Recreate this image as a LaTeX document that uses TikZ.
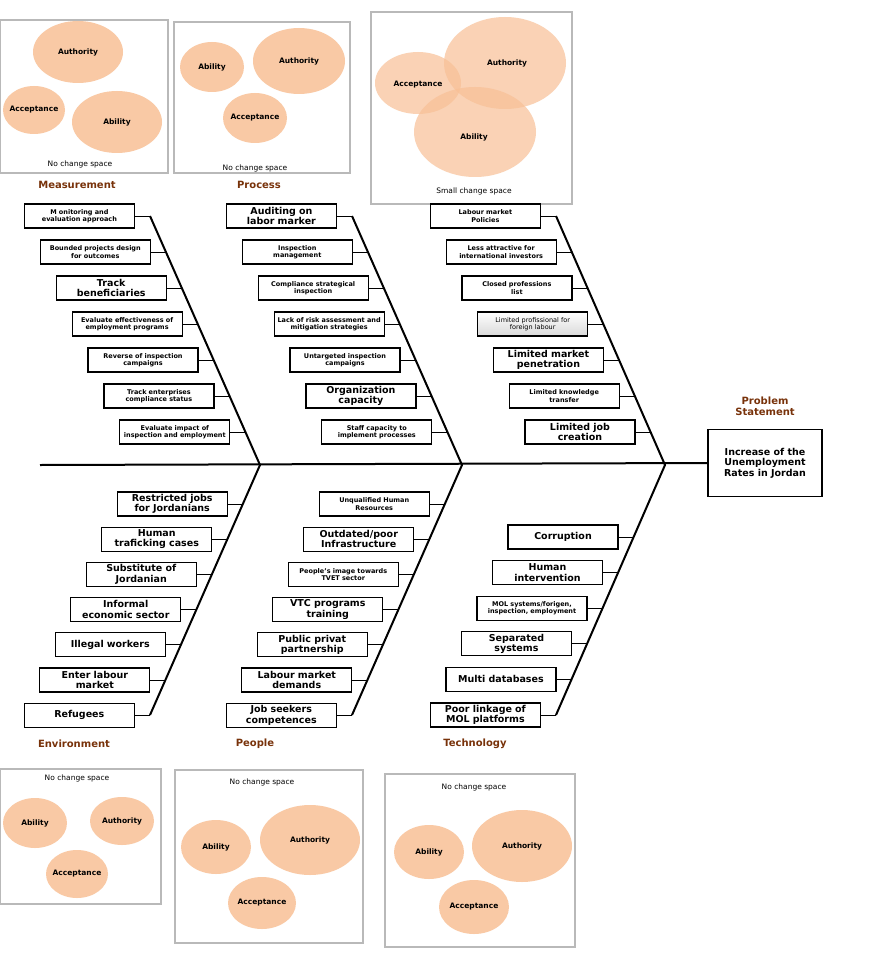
\documentclass[tikz,border=0pt]{standalone}
\usepackage{fontspec}
\setmainfont{DejaVu Sans}
\usetikzlibrary{positioning, calc}
\definecolor{peach}{RGB}{248,192,150}
\definecolor{catbrown}{RGB}{120,50,10}
\begin{document}
\begin{tikzpicture}[
			x=1pt, y=-1pt,
			box/.style={rectangle, draw, line width=1.2pt, minimum width=110pt, minimum height=24pt, text width=108pt, inner sep=1pt, align=center, fill=white},
			sm/.style={font=\fontsize{6.5}{7.2}\selectfont\bfseries},
			bg/.style={font=\fontsize{9.5}{10.5}\selectfont\bfseries},
			lt/.style={font=\fontsize{6.5}{7.2}\selectfont, top color=white, bottom color=gray!30},
			bone/.style={line width=2pt},
			tick/.style={line width=0.8pt},
			cat/.style={font=\fontsize{10}{11}\selectfont\bfseries, text=catbrown, align=center},
			frame/.style={draw=gray!55, line width=2pt, fill=white},
			blob/.style={fill=peach, opacity=0.85},
			note/.style={font=\fontsize{7.5}{8}\selectfont},
			bnote/.style={font=\fontsize{7.5}{8}\selectfont\bfseries},
			]
			\useasboundingbox (0,0) rectangle (870,960);
			
			% Venn panels, top
			\draw[frame] (0,20) rectangle (168,173);
			\fill[blob] (78,52) ellipse (45 and 31);
			\fill[blob] (34,110) ellipse (31 and 24);
			\fill[blob] (117,122) ellipse (45 and 31);
			\node[bnote] at (78,52) {Authority};
			\node[bnote] at (34,110) {Acceptance};
			\node[bnote] at (117,122) {Ability};
			\node[note] at (80,164) {No change space};
			
			\draw[frame] (174,22) rectangle (350,173);
			\fill[blob] (212,67) ellipse (32 and 25);
			\fill[blob] (299,61) ellipse (46 and 33);
			\fill[blob] (255,118) ellipse (32 and 25);
			\node[bnote] at (212,67) {Ability};
			\node[bnote] at (299,61) {Authority};
			\node[bnote] at (255,118) {Acceptance};
			\node[note] at (255,168) {No change space};
			
			\draw[frame] (371,12) rectangle (572,204);
			\fill[blob, opacity=0.7] (418,83) ellipse (43 and 31);
			\fill[blob, opacity=0.7] (505,63) ellipse (61 and 46);
			\fill[blob, opacity=0.7] (475,132) ellipse (61 and 45);
			\node[bnote] at (418,85) {Acceptance};
			\node[bnote] at (507,63) {Authority};
			\node[bnote] at (474,137) {Ability};
			\node[note] at (474,191) {Small change space};
			
			% Venn panels, bottom
			\draw[frame] (0,769) rectangle (161,904);
			\fill[blob] (35,823) ellipse (32 and 25);
			\fill[blob] (122,821) ellipse (32 and 24);
			\fill[blob] (77,874) ellipse (31 and 24);
			\node[bnote] at (35,823) {Ability};
			\node[bnote] at (122,821) {Authority};
			\node[bnote] at (77,874) {Acceptance};
			\node[note] at (77,778) {No change space};
			
			\draw[frame] (175,770) rectangle (363,943);
			\fill[blob] (216,847) ellipse (35 and 27);
			\fill[blob] (310,840) ellipse (50 and 35);
			\fill[blob] (262,903) ellipse (34 and 26);
			\node[bnote] at (216,847) {Ability};
			\node[bnote] at (310,840) {Authority};
			\node[bnote] at (262,903) {Acceptance};
			\node[note] at (262,782) {No change space};
			
			\draw[frame] (385,774) rectangle (575,947);
			\fill[blob] (429,852) ellipse (35 and 27);
			\fill[blob] (522,846) ellipse (50 and 36);
			\fill[blob] (474,907) ellipse (35 and 27);
			\node[bnote] at (429,852) {Ability};
			\node[bnote] at (522,846) {Authority};
			\node[bnote] at (474,907) {Acceptance};
			\node[note] at (474,787) {No change space};
			
			% Head and spine
			\node (prob) [rectangle, draw, line width=1.2pt, minimum width=114pt, minimum height=67pt, align=center, bg] at (765,463) {Increase of the\\Unemployment\\Rates in Jordan};
			\node[cat] at (765,406) {Problem\\Statement};
			\coordinate (tail) at (40,465);
			\draw[bone] (tail) -- (prob.west);
			
			% Bones
			\coordinate (mT) at (150,216); \coordinate (mS) at (260,465);
			\coordinate (pT) at (352,216); \coordinate (pS) at (462,465);
			\coordinate (lT) at (556,216); \coordinate (lS) at (665,465);
			\coordinate (eB) at (150,715); \coordinate (qB) at (352,715); \coordinate (tB) at (556,715);
			\draw[bone] (mT) -- (mS) -- (eB);
			\draw[bone] (pT) -- (pS) -- (qB);
			\draw[bone] (lT) -- (lS) -- (tB);
			
			% Measurement
			\foreach \txt/\sty [count=\i from 0] in {{M onitoring and\\evaluation approach}/sm, {Bounded projects design\\for outcomes}/sm, {Track\\beneficiaries}/bg, {Evaluate effectiveness of\\employment programs}/sm, {Reverse of inspection\\campaigns}/sm, {Track enterprises\\compliance status}/sm, {Evaluate impact of\\inspection and employment}/sm}{
				\coordinate (mk\i) at ($(mT)!{36*\i/249}!(mS)$);
				\node (m\i) [box, \sty, left=15pt of mk\i] {\txt};
				\draw[tick] (m\i) -- (mk\i);
			}
			% Process
			\foreach \txt/\sty [count=\i from 0] in {{Auditing on\\labor marker}/bg, {Inspection\\management}/sm, {Compliance strategical\\inspection}/sm, {Lack of risk assessment and\\mitigation strategies}/sm, {Untargeted inspection\\campaigns}/sm, {Organization\\capacity}/bg, {Staff capacity to\\implement processes}/sm}{
				\coordinate (pk\i) at ($(pT)!{36*\i/249}!(pS)$);
				\node (p\i) [box, \sty, left=15pt of pk\i] {\txt};
				\draw[tick] (p\i) -- (pk\i);
			}
			% Labour market
			\foreach \txt/\sty [count=\i from 0] in {{Labour market\\Policies}/sm, {Less attractive for\\international investors}/sm, {Closed professions\\list}/sm, {Limited profissional for\\foreign labour}/lt, {Limited market\\penetration}/bg, {Limited knowledge\\transfer}/sm, {Limited job\\creation}/bg}{
				\coordinate (lk\i) at ($(lT)!{36*\i/249}!(lS)$);
				\node (l\i) [box, \sty, left=15pt of lk\i] {\txt};
				\draw[tick] (l\i) -- (lk\i);
			}
			% Environment
			\foreach \txt [count=\i from 0] in {{Restricted jobs\\for Jordanians}, {Human\\traficking cases}, {Substitute of\\Jordanian}, {Informal\\economic sector}, {Illegal workers}, {Enter labour\\market}, {Refugees}}{
				\coordinate (ek\i) at ($(mS)!{(39+35.2*\i)/250}!(eB)$);
				\node (e\i) [box, bg, left=15pt of ek\i] {\txt};
				\draw[tick] (e\i) -- (ek\i);
			}
			% People
			\foreach \txt/\sty [count=\i from 0] in {{Unqualified Human\\Resources}/sm, {Outdated/poor\\Infrastructure}/bg, {People's image towards\\TVET sector}/sm, {VTC programs\\training}/bg, {Public privat\\partnership}/bg, {Labour market\\demands}/bg, {Job seekers\\competences}/bg}{
				\coordinate (qk\i) at ($(pS)!{(39+35.2*\i)/250}!(qB)$);
				\node (q\i) [box, \sty, left=15pt of qk\i] {\txt};
				\draw[tick] (q\i) -- (qk\i);
			}
			% Technology
			\foreach \txt/\sty [count=\i from 0] in {{Corruption}/bg, {Human\\intervention}/bg, {MOL systems/forigen,\\inspection, employment}/sm, {Separated\\systems}/bg, {Multi databases}/bg, {Poor linkage of\\MOL platforms}/bg}{
				\coordinate (tk\i) at ($(lS)!{(72+35.6*\i)/250}!(tB)$);
				\node (t\i) [box, \sty, left=15pt of tk\i] {\txt};
				\draw[tick] (t\i) -- (tk\i);
			}
			
			% Category labels
			\node[cat] at (77,185) {Measurement};
			\node[cat] at (259,185) {Process};
			\node[cat] at (74,744) {Environment};
			\node[cat] at (255,744) {People};
			\node[cat] at (475,744) {Technology};
		\end{tikzpicture}
\end{document}
